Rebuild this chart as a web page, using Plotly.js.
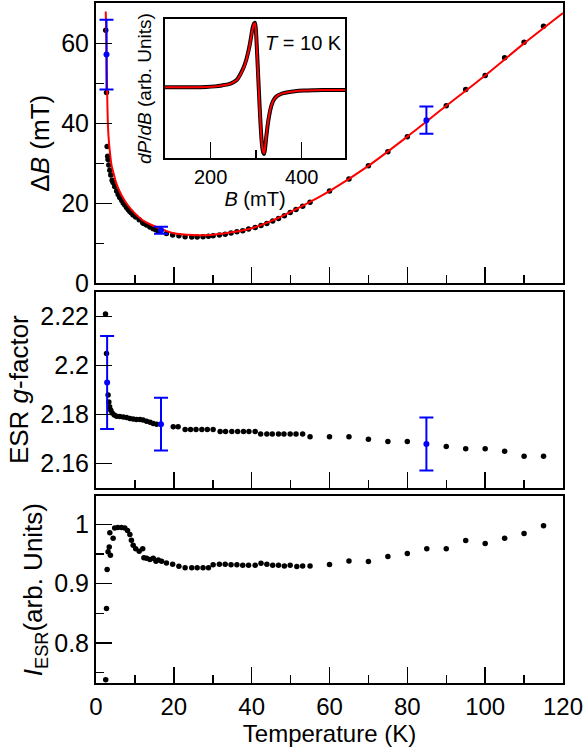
<!DOCTYPE html>
<html>
<head>
<meta charset="utf-8">
<script src="https://cdn.plot.ly/plotly-3.0.1.min.js"></script>
<style>
  html, body { margin: 0; padding: 0; background: #fff; }
  #chart { width: 586px; height: 747px; }
</style>
</head>
<body>
<div id="chart"></div>
<script>
// linewidth panel: Delta B vs T
var tempB = [2.5, 2.7, 2.86, 3.0, 3.1, 3.3, 3.55, 3.8, 4.15, 4.4, 4.8, 5.3, 5.7, 6.1, 6.6, 7.0, 7.4, 7.85, 8.3, 8.7, 9.1, 9.55, 10.2, 11.1, 12.0, 12.3, 13.0, 13.85, 14.7, 15.4, 16.0, 18.1, 19.7, 21.3, 22.9, 24.6, 26.0, 27.5, 28.9, 30.1, 31.7, 33.2, 34.7, 36.2, 37.7, 39.2, 40.9, 42.4, 43.9, 45.4, 46.9, 48.4, 49.9, 51.4, 53.1, 55, 60, 65, 70, 75, 80, 90, 95, 100, 105, 110, 115];
var deltaB = [63.3, 47.7, 34.2, 31.8, 31.0, 29.6, 28.3, 27.1, 25.8, 25.2, 24.2, 23.1, 22.2, 21.5, 20.8, 20.1, 19.6, 19.0, 18.4, 18.0, 17.6, 17.1, 16.6, 15.9, 15.2, 15.0, 14.6, 14.1, 13.7, 13.4, 13.1, 12.5, 12.1, 11.9, 11.7, 11.6, 11.6, 11.7, 11.8, 11.9, 12.1, 12.3, 12.6, 12.9, 13.2, 13.6, 14.0, 14.5, 15.0, 15.6, 16.2, 16.9, 17.7, 18.5, 19.3, 20.3, 23.1, 26.1, 29.4, 32.9, 36.65, 44.4, 48.5, 52.0, 56.4, 60.3, 64.3];

var fitT = [2.5, 2.65, 2.75, 2.9, 3.05, 3.2, 3.5, 4.0, 4.4, 5.0, 5.7, 6.6, 8, 10, 12, 14.3, 16.85, 19.8, 25, 30, 35.7, 40, 46, 50, 55, 60, 70, 80, 90, 100, 110, 120];
var fitB = [68, 62, 55, 46, 40, 37, 33.5, 29.5, 28, 25.7, 23.8, 22.0, 19.8, 17.5, 15.8, 14.6, 13.6, 12.6, 12.1, 12.2, 12.9, 13.8, 16.0, 17.9, 20.4, 23.1, 29.4, 36.7, 44.4, 52.0, 60.0, 67.6];

var errT_B = [2.7, 16.7, 84.9];
var errB = [57.2, 13.3, 40.8];
var errB_size = [8.7, 0.9, 3.4];

// g-factor panel
var tempG = [2.44, 2.7, 3.1, 3.3, 3.5, 3.8, 4.15, 4.7, 5.3, 6.1, 7.0, 7.85, 8.7, 9.55, 10.4, 11.3, 12.1, 13.0, 13.9, 14.7, 15.6, 19.85, 21.1, 22.9, 24.3, 25.7, 27.2, 28.6, 30.1, 31.9, 33.3, 34.9, 36.4, 37.9, 39.3, 40.9, 42.3, 43.9, 45.3, 46.9, 48.3, 49.9, 51.4, 53.1, 55, 60, 65, 70, 75, 80, 90, 95, 100, 105, 110, 115];
var gFactor = [2.2211, 2.205, 2.188, 2.1852, 2.1832, 2.1818, 2.1807, 2.1798, 2.1793, 2.1792, 2.179, 2.1788, 2.1784, 2.1782, 2.178, 2.178, 2.1778, 2.1773, 2.1769, 2.1764, 2.1761, 2.175, 2.175, 2.1739, 2.1739, 2.1739, 2.1739, 2.1739, 2.1739, 2.1731, 2.1731, 2.1731, 2.1731, 2.1731, 2.1731, 2.1731, 2.1721, 2.1721, 2.1721, 2.1721, 2.1721, 2.1721, 2.1721, 2.1721, 2.1709, 2.1709, 2.1709, 2.1699, 2.169, 2.169, 2.167, 2.166, 2.166, 2.165, 2.163, 2.163];

var errT_G = [2.86, 16.7, 84.9];
var errG = [2.1931, 2.1761, 2.168];
var errG_size = [0.019, 0.0108, 0.0108];

// intensity panel
var tempI = [2.5, 2.7, 2.86, 3.1, 3.4, 3.7, 3.55, 4.4, 4.8, 5.6, 6.55, 7.4, 8.1, 8.7, 9.1, 9.55, 10.2, 11.1, 12.0, 12.3, 13.0, 13.85, 14.7, 15.4, 16.0, 16.85, 18.1, 19.7, 21.3, 22.9, 24.6, 26.0, 27.5, 28.9, 30.1, 31.7, 33.2, 34.7, 36.2, 37.7, 39.2, 40.9, 42.4, 43.9, 45.4, 46.9, 48.4, 49.9, 51.6, 53.1, 55, 60, 65, 70, 75, 80, 85, 90, 95, 100, 105, 110, 115];
var intensity = [0.738, 0.858, 0.924, 0.954, 0.962, 0.948, 0.986, 0.977, 0.994, 0.995, 0.995, 0.994, 0.990, 0.983, 0.9735, 0.965, 0.959, 0.955, 0.959, 0.944, 0.943, 0.941, 0.943, 0.938, 0.940, 0.938, 0.935, 0.933, 0.9295, 0.927, 0.927, 0.927, 0.927, 0.927, 0.932, 0.933, 0.933, 0.932, 0.932, 0.931, 0.931, 0.931, 0.9346, 0.933, 0.931, 0.931, 0.930, 0.931, 0.929, 0.930, 0.930, 0.9325, 0.9385, 0.9375, 0.946, 0.951, 0.959, 0.959, 0.973, 0.968, 0.977, 0.985, 0.998];

// inset spectrum at 10 K
var field = [100, 130, 160, 190, 210, 225, 240, 250, 258, 265, 272, 278, 283, 287, 290, 293, 295.5, 297.5, 299.5, 301.5, 303.5, 305.5, 307.5, 309.5, 311.5, 313.5, 315.5, 317.5, 319.5, 322, 325, 328, 331, 335, 340, 345, 352, 360, 370, 385, 405, 430, 460, 495];
var signal = [0.0, 0.0, 0.0, 0.005, 0.015, 0.03, 0.05, 0.08, 0.12, 0.2, 0.3, 0.42, 0.56, 0.7, 0.83, 0.94, 0.99, 1.0, 0.88, 0.62, 0.32, 0.02, -0.28, -0.55, -0.78, -0.93, -1.01, -1.03, -0.95, -0.78, -0.6, -0.46, -0.35, -0.25, -0.18, -0.14, -0.11, -0.09, -0.075, -0.06, -0.05, -0.045, -0.04, -0.04];
var signalFit = [0.0, 0.0, 0.0, 0.005, 0.013, 0.027, 0.047, 0.076, 0.115, 0.19, 0.29, 0.41, 0.55, 0.69, 0.82, 0.93, 0.985, 0.99, 0.87, 0.6, 0.3, 0.0, -0.3, -0.56, -0.79, -0.93, -1.0, -1.02, -0.94, -0.77, -0.59, -0.45, -0.34, -0.25, -0.18, -0.14, -0.11, -0.09, -0.075, -0.06, -0.05, -0.045, -0.04, -0.04];

var FONT = 'Liberation Sans, Arial, Helvetica, sans-serif';
var blue = '#0000ff';

var traces = [
  {x: tempB, y: deltaB, xaxis: 'x', yaxis: 'y', mode: 'markers', type: 'scatter',
   marker: {color: 'black', size: 5.5}},
  {x: fitT, y: fitB, xaxis: 'x', yaxis: 'y', mode: 'lines', type: 'scatter',
   line: {color: '#ff0000', width: 2, shape: 'spline', smoothing: 0.8}},
  {x: errT_B, y: errB, xaxis: 'x', yaxis: 'y', mode: 'markers', type: 'scatter',
   marker: {color: blue, size: 6},
   error_y: {type: 'data', array: errB_size, color: blue, thickness: 2, width: 7}},

  {x: tempG, y: gFactor, xaxis: 'x2', yaxis: 'y2', mode: 'markers', type: 'scatter',
   marker: {color: 'black', size: 5.5}},
  {x: errT_G, y: errG, xaxis: 'x2', yaxis: 'y2', mode: 'markers', type: 'scatter',
   marker: {color: blue, size: 6},
   error_y: {type: 'data', array: errG_size, color: blue, thickness: 2, width: 7}},

  {x: tempI, y: intensity, xaxis: 'x3', yaxis: 'y3', mode: 'markers', type: 'scatter',
   marker: {color: 'black', size: 5.5}},

  {x: field, y: signal, xaxis: 'x4', yaxis: 'y4', mode: 'lines', type: 'scatter',
   line: {color: 'black', width: 4, shape: 'spline', smoothing: 0.6}},
  {x: field, y: signalFit, xaxis: 'x4', yaxis: 'y4', mode: 'lines', type: 'scatter',
   line: {color: '#ff0000', width: 2, shape: 'spline', smoothing: 0.6}}
];

function xax(anchor, labels) {
  return {
    anchor: anchor, domain: [0, 1], range: [0, 120],
    dtick: 20, tick0: 0, ticks: 'inside', ticklen: 16, tickwidth: 1.5, tickcolor: 'black',
    minor: {dtick: 10, ticks: 'inside', ticklen: 8, tickwidth: 1.5, tickcolor: 'black', showgrid: false},
    showline: true, linewidth: 2, linecolor: 'black', mirror: true,
    showgrid: false, zeroline: false, showticklabels: labels,
    tickfont: {family: FONT, size: 24, color: 'black'},
    ticklabelstandoff: 1,
    automargin: false
  };
}

function yax(anchor, domain, range, dtick, minorDtick, titleText, standoff) {
  var ax = {
    anchor: anchor, domain: domain, range: range,
    dtick: dtick, tick0: 0, ticks: 'inside', ticklen: 16, tickwidth: 1.5, tickcolor: 'black',
    showline: true, linewidth: 2, linecolor: 'black', mirror: true,
    showgrid: false, zeroline: false,
    tickfont: {family: FONT, size: 25, color: 'black'},
    title: {text: titleText, font: {family: FONT, size: 26, color: 'black'}, standoff: standoff},
    automargin: false
  };
  if (minorDtick) {
    ax.minor = {dtick: minorDtick, ticks: 'inside', ticklen: 8, tickwidth: 1.5, tickcolor: 'black', showgrid: false};
  }
  return ax;
}

var xaxis3 = xax('y3', true);
xaxis3.title = {text: 'Temperature (K)', font: {family: FONT, size: 24, color: 'black'}, standoff: 6};

var layout = {
  width: 586, height: 747,
  margin: {l: 96, r: 23, t: 3, b: 64},
  paper_bgcolor: 'white', plot_bgcolor: 'rgba(0,0,0,0)',
  showlegend: false,
  font: {family: FONT, color: 'black'},
  xaxis: xax('y', false),
  xaxis2: xax('y2', false),
  xaxis3: xaxis3,
  yaxis: yax('x', [0.5876, 1], [0, 70.1], 20, 10, 'Δ<i>B</i> (mT)', 4),
  yaxis2: yax('x2', [0.2875, 0.5753], [2.1502, 2.2302], 0.02, null, 'ESR <i>g</i>-factor', 4),
  yaxis3: yax('x3', [0, 0.2747], [0.7324, 1.0478], 0.1, 0.05, '<i>I</i><sub>ESR</sub>(arb. Units)', 4),
  xaxis4: {
    anchor: 'y4', domain: [0.1478, 0.5332], range: [100, 495],
    dtick: 200, tick0: 0, ticks: 'inside', ticklen: 16, tickwidth: 1.5, tickcolor: 'black',
    minor: {dtick: 100, ticks: 'inside', ticklen: 8, tickwidth: 1.5, tickcolor: 'black', showgrid: false},
    showline: true, linewidth: 2, linecolor: 'black', mirror: true,
    showgrid: false, zeroline: false,
    tickfont: {family: FONT, size: 20, color: 'black'},
    title: {text: '<i>B</i> (mT)', font: {family: FONT, size: 20, color: 'black'}, standoff: 2},
    automargin: false
  },
  yaxis4: {
    anchor: 'x4', domain: [0.7724, 0.976], range: [-1.09, 1.053],
    ticks: '', showticklabels: false,
    showline: true, linewidth: 2, linecolor: 'black', mirror: true,
    showgrid: false, zeroline: false,
    title: {text: '<i>dP</i>/<i>dB</i> (arb. Units)', font: {family: FONT, size: 19, color: 'black'}, standoff: 6},
    automargin: false
  },
  annotations: [
    {xref: 'x4', yref: 'y4', x: 405, y: 0.68, text: '<i>T</i> = 10 K', showarrow: false,
     font: {family: FONT, size: 20, color: 'black'}}
  ]
};

Plotly.newPlot('chart', traces, layout, {staticPlot: true, displayModeBar: false});
</script>
</body>
</html>
